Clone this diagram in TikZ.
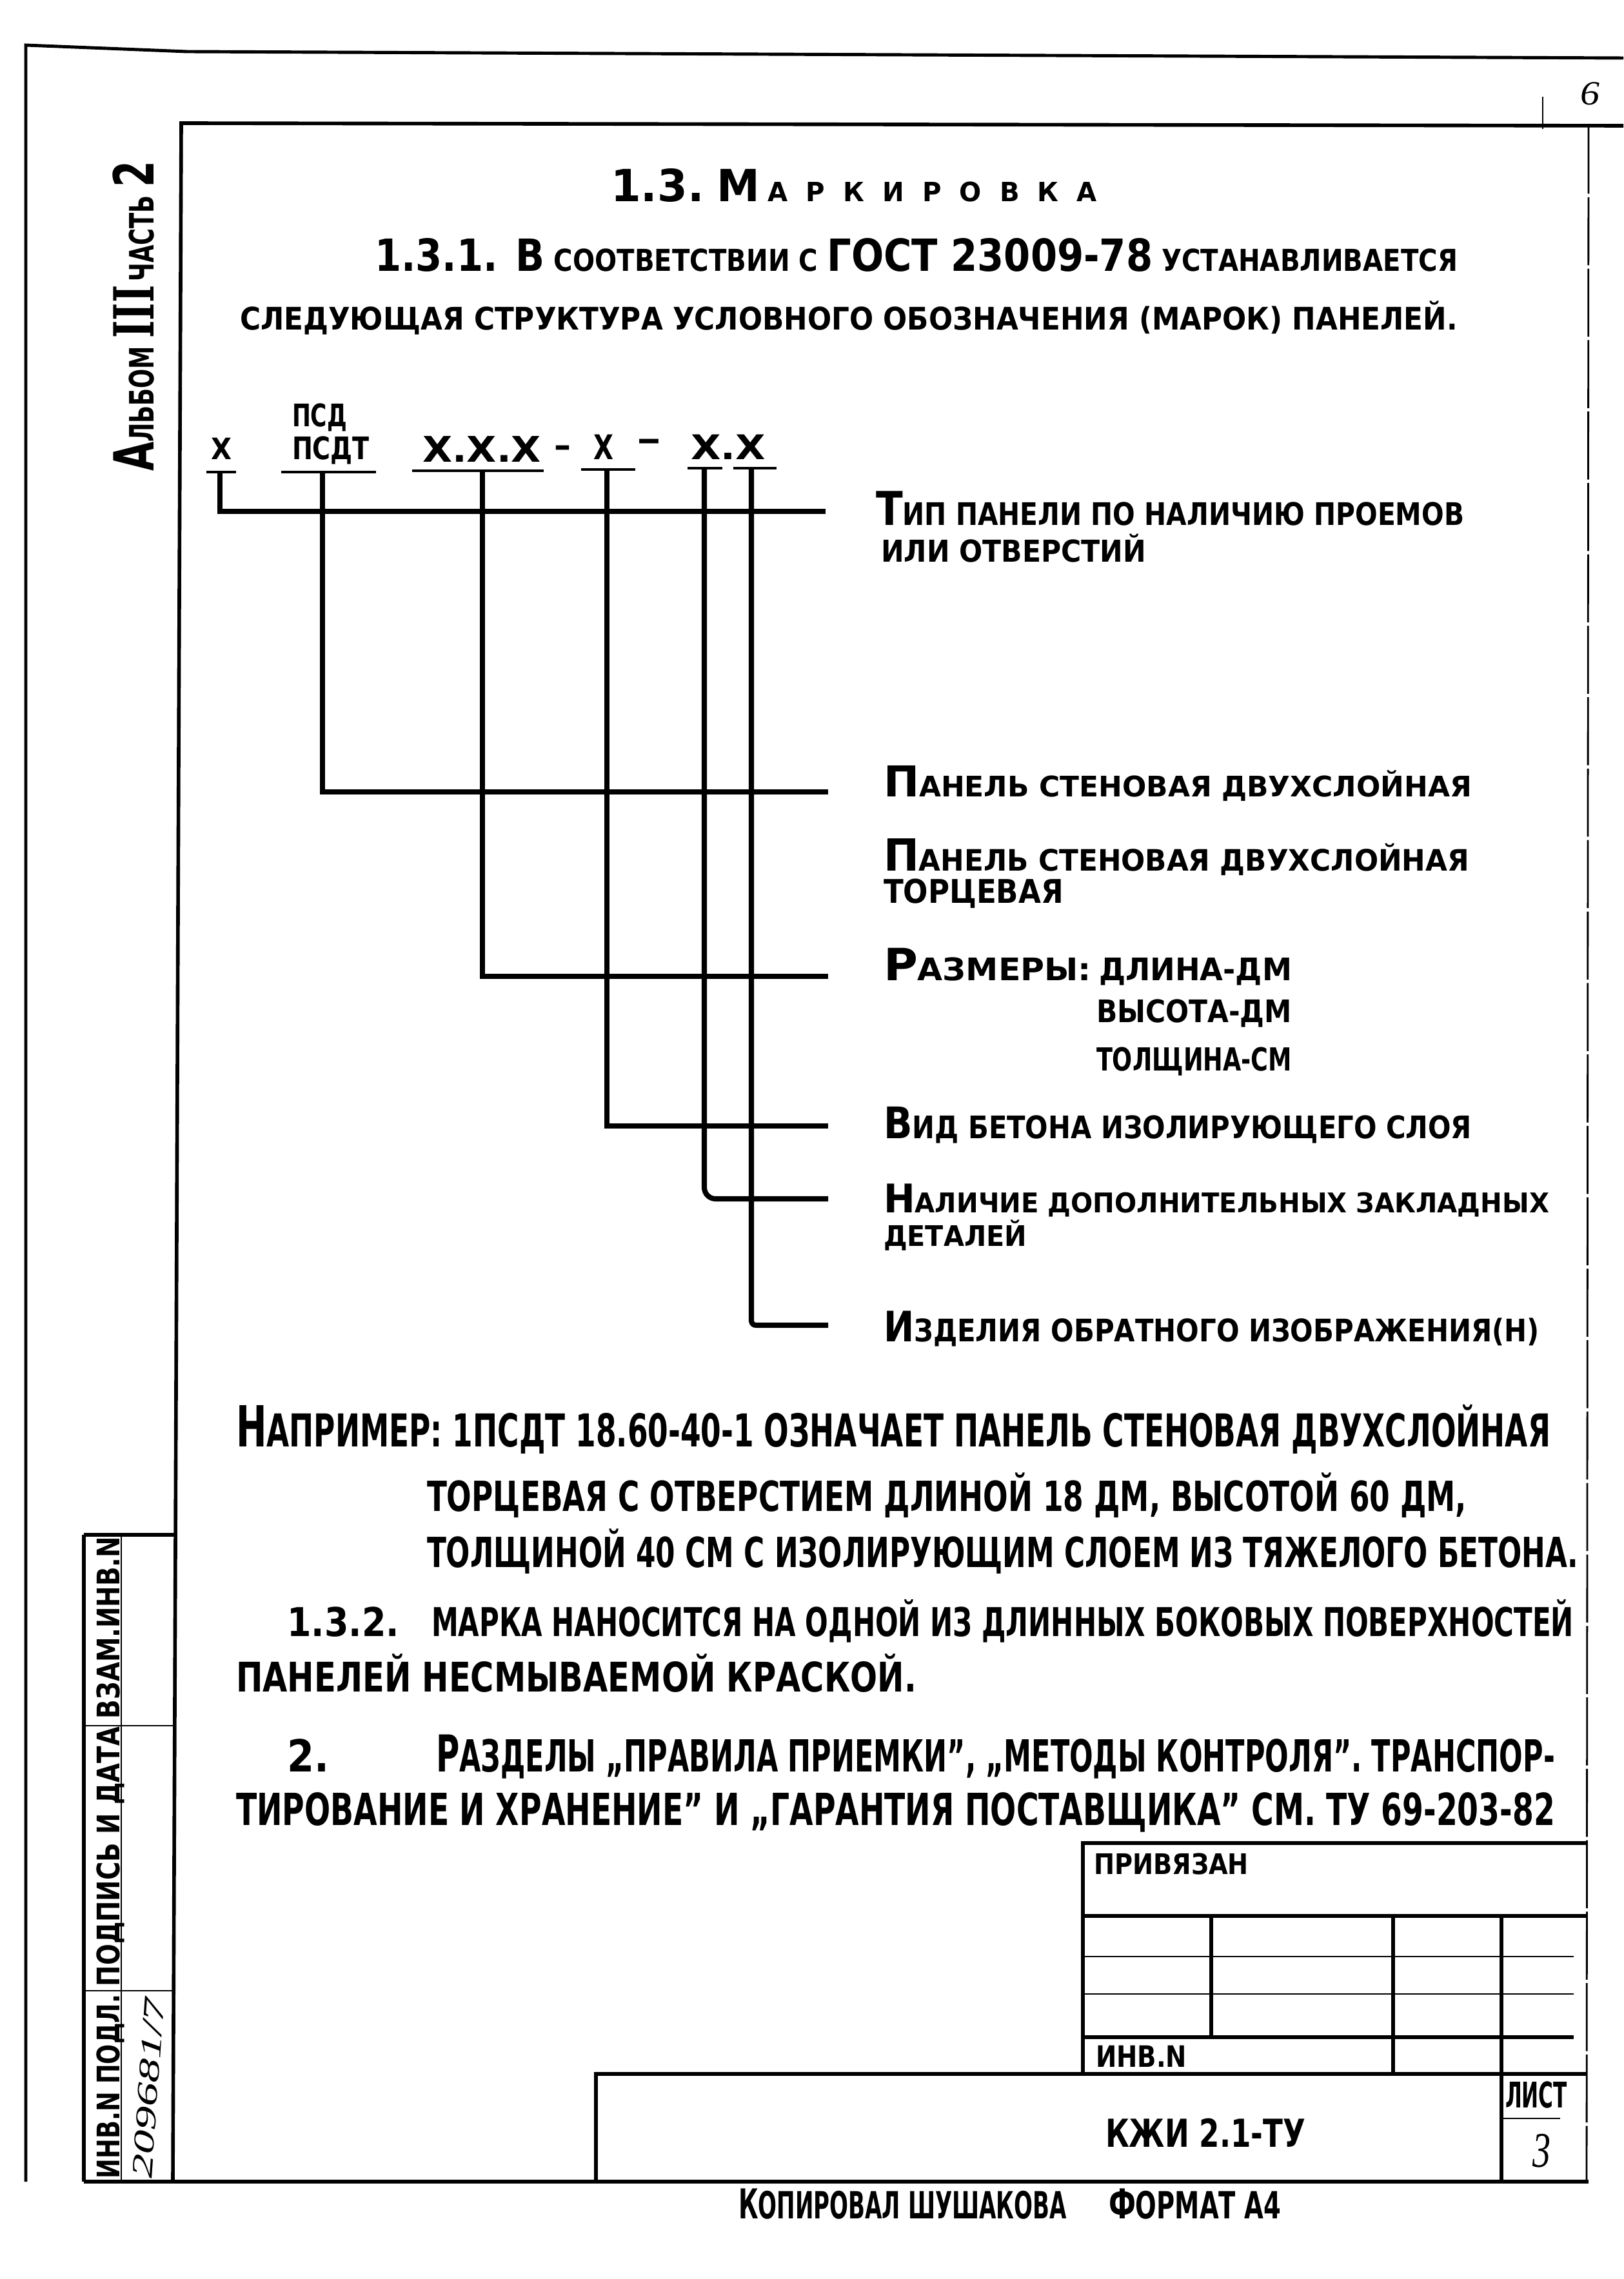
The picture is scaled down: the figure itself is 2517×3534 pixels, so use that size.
\documentclass[tikz,border=0pt]{standalone}
\usepackage{fontspec}
\usepackage{graphicx}
\setmainfont{DejaVu Sans}
\newfontfamily\handf{Liberation Serif}
\newfontfamily\serf{DejaVu Serif}
\newdimen\pxu \pxu=0.01cm
\newcommand\Tx[3]{\resizebox{#1\pxu}{\height}{\fontsize{#2}{#2}\selectfont\bfseries #3}}
\newcommand\Hx[3]{\resizebox{#1\pxu}{\height}{\fontsize{#2}{#2}\selectfont\handf\itshape #3}}
\newcommand\BgL[2][1.45]{\scalebox{#1}{#2}}
\begin{document}
\begin{tikzpicture}[x=0.01cm,y=-0.01cm,
  txt/.style={inner sep=0pt,outer sep=0pt,anchor=base west},
  rtxt/.style={inner sep=0pt,outer sep=0pt,anchor=base west,rotate=90},
  frm/.style={line width=1.6pt},
  thn/.style={line width=0.8pt},
  stem/.style={line width=2.3pt},
  bar/.style={line width=1.3pt}]
\fill[white] (0,0) rectangle (2517,3534);
\useasboundingbox (0,0) rectangle (2517,3534);

% ---------------- frames
\draw[line width=1.4pt] (40,3383) -- (40,70) -- (290,80) -- (2517,90);
\draw[frm] (2517,195) -- (281,191) -- (268,3383);
\draw[frm] (130,3383) -- (2463,3383);
\draw[thn,dash pattern=on 30pt off 1.5pt] (2463,195) -- (2460,3383);
\draw[thn] (2392,150) -- (2392,200);

% ---------------- left stamp strip
\draw[frm] (130,2380) -- (130,3383);
\draw[thn] (188,2380) -- (188,3383);
\draw[frm] (130,2380) -- (270,2380);
\draw[thn] (130,2676) -- (270,2676);
\draw[thn] (130,3087) -- (270,3087);
\node[rtxt] (sv) at (185,2665) {\Tx{282}{13.7}{ВЗАМ.ИНВ.N}};
\node[rtxt] (sp) at (185,3080) {\Tx{402}{13.7}{ПОДПИСЬ И ДАТА}};
\node[rtxt] (si) at (185,3378) {\Tx{285}{13.7}{ИНВ.N ПОДЛ.}};
\node[inner sep=0pt,rotate=86] (sh) at (230,3238) {\Hx{280}{13}{209681/7}};

% ---------------- album label
\node[rtxt] (alb) at (238,731) {\Tx{481}{14.8}{\BgL[1.65]{А}ЛЬБОМ \BgL[1.65]{{\serf III}}\,ЧАСТЬ \BgL[1.65]{2}}};
\node[txt] (pg) at (2450,163) {\Hx{30}{15}{6}};

% ---------------- headings
\node[txt] (h0) at (947,313) {\Tx{754}{11.7}{\BgL[1.67]{1.3.}\hspace{0.5em}\BgL[1.67]{М}\hspace{0.3em}А\hspace{0.7em}Р\hspace{0.7em}К\hspace{0.7em}И\hspace{0.7em}Р\hspace{0.7em}О\hspace{0.7em}В\hspace{0.7em}К\hspace{0.7em}А}};
\node[txt] (h1) at (581,421) {\Tx{1679}{13.3}{\BgL[1.47]{1.3.1.}\ \ \BgL[1.47]{В} СООТВЕТСТВИИ С \BgL[1.47]{ГОСТ 23009-78} УСТАНАВЛИВАЕТСЯ}};
\node[txt] (h2) at (372,512) {\Tx{1888}{13.7}{СЛЕДУЮЩАЯ СТРУКТУРА УСЛОВНОГО ОБОЗНАЧЕНИЯ (МАРОК) ПАНЕЛЕЙ.}};

% ---------------- structure symbols
\node[txt] (m1) at (327,713) {\Tx{32}{13}{Х}};
\node[txt] (m2a) at (453,662) {\Tx{85}{13.7}{ПСД}};
\node[txt] (m2) at (453,713) {\Tx{120}{13.7}{ПСДТ}};
\node[txt] (m3) at (655,717) {\Tx{184}{15.6}{Х.Х.Х}};
\node[inner sep=0pt] (d1) at (872,700) {\Tx{26}{15.6}{–}};
\node[txt] (m4) at (920,713) {\Tx{31}{15}{Х}};
\node[inner sep=0pt] (d2) at (1006,690) {\Tx{38}{15.6}{–}};
\node[txt] (m5) at (1071,713) {\Tx{116}{15}{Х.Х}};

\draw[bar] (320,732) -- (366,732);
\draw[bar] (436,732) -- (583,732);
\draw[bar] (639,730) -- (843,730);
\draw[bar] (901,728) -- (985,728);
\draw[bar] (1066,726) -- (1120,726);
\draw[bar] (1137,726) -- (1204,726);

\coordinate (b1) at (341,732);
\coordinate (b2) at (500,732);
\coordinate (b3) at (748,730);
\coordinate (b4) at (941,728);
\coordinate (b5) at (1092,726);
\coordinate (b6) at (1165,726);
\coordinate (e1) at (1280,793);
\coordinate (e2) at (1284,1228);
\coordinate (e3) at (1284,1514);
\coordinate (e4) at (1284,1746);
\coordinate (e5) at (1284,1859);
\coordinate (e6) at (1284,2055);
\draw[stem] (b1) |- (e1);
\draw[stem] (b2) |- (e2);
\draw[stem] (b3) |- (e3);
\draw[stem] (b4) |- (e4);
\draw[stem,rounded corners=5pt] (b5) |- (e5);
\draw[stem,rounded corners=2pt] (b6) |- (e6);

% ---------------- labels
\node[txt] (l1) at (1358,815) {\Tx{912}{13.7}{\BgL[1.5]{Т}ИП ПАНЕЛИ ПО НАЛИЧИЮ ПРОЕМОВ}};
\node[txt] (l1b) at (1366,872) {\Tx{411}{13.3}{ИЛИ ОТВЕРСТИЙ}};
\node[txt] (l2) at (1370,1235) {\Tx{912}{12.5}{\BgL[1.5]{П}АНЕЛЬ СТЕНОВАЯ ДВУХСЛОЙНАЯ}};
\node[txt] (l2b) at (1370,1350) {\Tx{908}{13}{\BgL[1.5]{П}АНЕЛЬ СТЕНОВАЯ ДВУХСЛОЙНАЯ}};
\node[txt] (l2c) at (1370,1400) {\Tx{279}{14.4}{ТОРЦЕВАЯ}};
\node[txt] (l3) at (1370,1520) {\Tx{322}{13.7}{\BgL[1.43]{Р}АЗМЕРЫ:}};
\node[txt] (l3a) at (1704,1520) {\Tx{299}{13.7}{ДЛИНА-ДМ}};
\node[txt] (l3b) at (1700,1585) {\Tx{303}{13.7}{ВЫСОТА-ДМ}};
\node[txt] (l3c) at (1700,1660) {\Tx{303}{14}{ТОЛЩИНА-СМ}};
\node[txt] (l4) at (1370,1765) {\Tx{912}{13.7}{\BgL[1.4]{В}ИД БЕТОНА ИЗОЛИРУЮЩЕГО СЛОЯ}};
\node[txt] (l5) at (1370,1880) {\Tx{1032}{12}{\BgL[1.45]{Н}АЛИЧИЕ ДОПОЛНИТЕЛЬНЫХ ЗАКЛАДНЫХ}};
\node[txt] (l5b) at (1370,1932) {\Tx{222}{12.5}{ДЕТАЛЕЙ}};
\node[txt] (l6) at (1370,2080) {\Tx{1017}{13.7}{\BgL[1.35]{И}ЗДЕЛИЯ ОБРАТНОГО ИЗОБРАЖЕНИЯ(Н)}};

% ---------------- paragraph
\node[txt] (p1) at (366,2243) {\Tx{2038}{20}{\BgL[1.25]{Н}АПРИМЕР: 1ПСДТ 18.60-40-1 ОЗНАЧАЕТ ПАНЕЛЬ СТЕНОВАЯ ДВУХСЛОЙНАЯ}};
\node[txt] (p2) at (662,2343) {\Tx{1612}{18.3}{ТОРЦЕВАЯ С ОТВЕРСТИЕМ ДЛИНОЙ 18 ДМ, ВЫСОТОЙ 60 ДМ,}};
\node[txt] (p3) at (662,2430) {\Tx{1785}{18.3}{ТОЛЩИНОЙ 40 СМ С ИЗОЛИРУЮЩИМ СЛОЕМ ИЗ ТЯЖЕЛОГО БЕТОНА.}};
\node[txt] (p4a) at (445,2537) {\Tx{174}{17.5}{1.3.2.}};
\node[txt] (p4) at (669,2537) {\Tx{1771}{17.5}{МАРКА НАНОСИТСЯ НА ОДНОЙ ИЗ ДЛИННЫХ БОКОВЫХ ПОВЕРХНОСТЕЙ}};
\node[txt] (p5) at (366,2623) {\Tx{1055}{18}{ПАНЕЛЕЙ НЕСМЫВАЕМОЙ КРАСКОЙ.}};
\node[txt] (p6a) at (445,2747) {\Tx{65}{19.5}{2.}};
\node[txt] (p6) at (676,2747) {\Tx{1735}{19.5}{\BgL[1.15]{Р}АЗДЕЛЫ „ПРАВИЛА ПРИЕМКИ”, „МЕТОДЫ КОНТРОЛЯ”. ТРАНСПОР-}};
\node[txt] (p7) at (366,2830) {\Tx{2045}{19.5}{ТИРОВАНИЕ И ХРАНЕНИЕ” И „ГАРАНТИЯ ПОСТАВЩИКА” СМ. ТУ 69-203-82}};

% ---------------- title block
\draw[frm] (1679,3216) -- (1679,2858) -- (2460,2858);
\draw[frm] (1679,2971) -- (2460,2971);
\draw[thn] (1679,3034) -- (2440,3034);
\draw[thn] (1679,3092) -- (2440,3092);
\draw[frm] (1679,3159) -- (2440,3159);
\draw[frm] (1878,2971) -- (1878,3159);
\draw[frm] (2160,2971) -- (2160,3216);
\draw[frm] (2328,2971) -- (2328,3383);
\draw[frm] (924,3383) -- (924,3216) -- (2460,3216);
\draw[thn] (2328,3285) -- (2419,3285);
\node[txt] (tb1) at (1696,2906) {\Tx{240}{12.5}{ПРИВЯЗАН}};
\node[txt] (tb2) at (1699,3205) {\Tx{141}{13}{ИНВ.N}};
\node[txt] (tb3) at (2334,3268) {\Tx{96}{15.6}{ЛИСТ}};
\node[txt] (tb4) at (2376,3360) {\Hx{28}{22}{3}};
\node[txt] (tb5) at (1714,3329) {\Tx{310}{17}{КЖИ 2.1-ТУ}};
\node[txt] (f1) at (1145,3440) {\Tx{509}{16.5}{\BgL[1.1]{К}ОПИРОВАЛ ШУШАКОВА}};
\node[txt] (f2) at (1719,3440) {\Tx{267}{16.5}{\BgL[1.1]{Ф}ОРМАТ А4}};
\end{tikzpicture}
\end{document}
